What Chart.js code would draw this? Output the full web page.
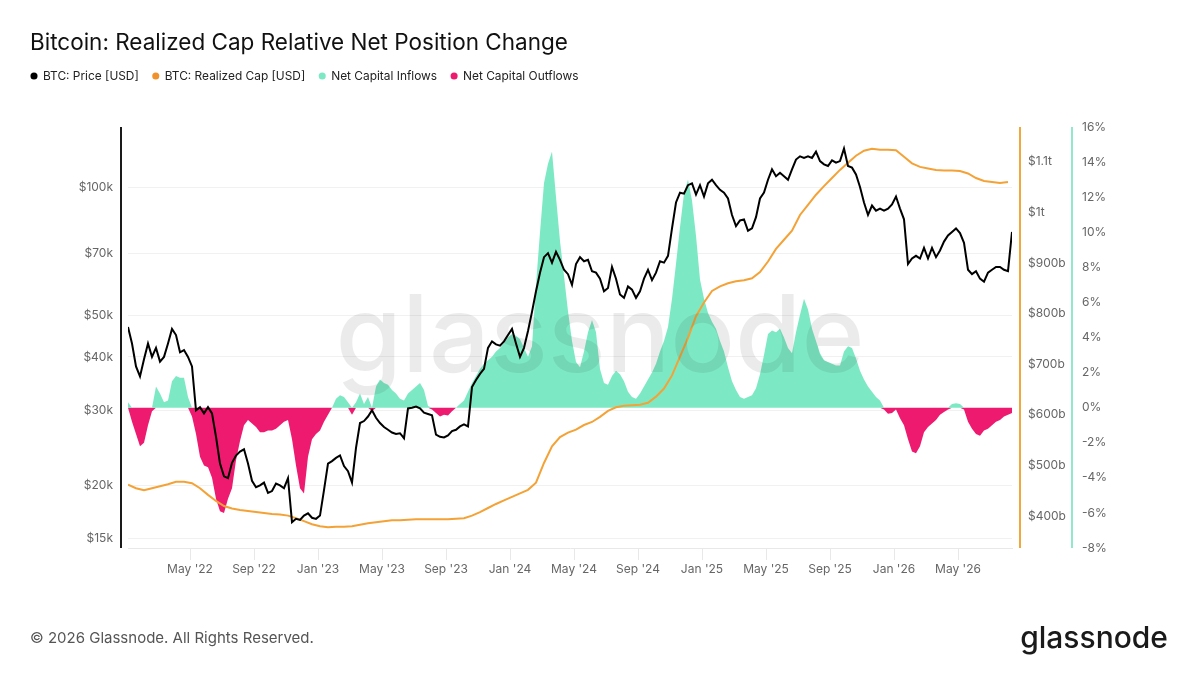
<!DOCTYPE html>
<html>
<head>
<meta charset="utf-8">
<script src="https://cdn.jsdelivr.net/npm/chart.js@4.4.1/dist/chart.umd.min.js"></script>
<style>
body{margin:0;background:#fff;}
#wrap{position:relative;width:1200px;height:675px;font-family:Inter,sans-serif;}
#title{position:absolute;left:30px;top:31px;font-size:22.5px;line-height:22px;color:#111;font-weight:400;}
#foot{position:absolute;left:30px;top:630px;font-size:15px;line-height:16px;color:#555;}
#logo{position:absolute;right:32px;top:622px;font-size:30px;line-height:30px;color:#1a1a1a;font-weight:500;}
canvas{position:absolute;left:0;top:0;}
</style>
</head>
<body>
<div id="wrap">
<canvas id="chart" width="1200" height="675"></canvas>
<div id="title">Bitcoin: Realized Cap Relative Net Position Change</div>
<div id="foot">© 2026 Glassnode. All Rights Reserved.</div>
<div id="logo">glassnode</div>
</div>
<script>
// x values are months since Jan 1 2022; series are weekly (cap every half month)
const firstMonth = 0.125;
const weekStep = 0.25;
const capStep = 0.5;

const tickMonths = [4, 8, 12, 16, 20, 24, 28, 32, 36, 40, 44, 48, 52];
const tickLabels = ["May '22", "Sep '22", "Jan '23", "May '23", "Sep '23", "Jan '24", "May '24",
  "Sep '24", "Jan '25", "May '25", "Sep '25", "Jan '26", "May '26"];
const priceTicks = [15, 20, 30, 40, 50, 70, 100];          // $k
const capTicks = [400, 500, 600, 700, 800, 900, 1000, 1100]; // $b
const pctTicks = [-8, -6, -4, -2, 0, 2, 4, 6, 8, 10, 12, 14, 16];

// BTC price, $k
const btcPriceK = [
  47, 43, 38, 36, 39.5, 43, 40, 42, 39, 40,
  43, 46.5, 45, 41, 41.5, 40, 38, 30, 30.5, 29.5,
  30.5, 29.5, 26, 22.5, 21, 20.8, 22.6, 23.5, 24, 24.3,
  22.5, 20.5, 19.8, 20, 20.3, 19.2, 19.4, 20.2, 20, 19.7,
  20.8, 16.4, 16.7, 16.6, 17, 17.2, 16.8, 16.7, 17, 19.5,
  22.5, 22.8, 23.2, 23.5, 22.2, 21.6, 20.3, 24.5, 28, 28.3,
  29, 30, 28.8, 28, 27.4, 27, 26.6, 26.4, 26.5, 25.8,
  30.3, 30.4, 30.6, 30.3, 29.6, 29.4, 29.2, 26.3, 26, 25.9,
  26.2, 26.8, 27, 27.5, 27.8, 27.5, 34, 35.3, 36.5, 37.5,
  42, 43.5, 42.8, 42.5, 43.5, 45, 46.5, 43, 40, 42,
  46, 51, 57, 63, 68.5, 70, 66.5, 70.5, 67.5, 64,
  62.5, 59, 66, 68.5, 67, 67.5, 63.5, 63, 61, 57,
  58, 65, 61, 56, 55, 58.5, 57.5, 55, 57, 61,
  64, 60.5, 63, 67, 66.5, 69, 80, 92, 97, 96.5,
  101, 102, 96, 101, 95, 102, 104, 101, 98.5, 97,
  94, 86, 81, 83.5, 84, 79, 80, 85, 94, 97,
  104, 110, 106, 108, 106, 104, 110, 116, 118, 117,
  118, 117, 121, 115, 113, 112, 115.5, 114, 115, 123,
  112, 111, 107, 100, 92, 86, 90.5, 88, 89, 88,
  89, 91, 95, 89, 84, 66, 68, 69, 68, 72,
  68, 72, 68.5, 71, 74.5, 77, 78.5, 80, 78, 74,
  64, 62.5, 63.5, 61, 60, 63, 64, 65, 65, 64,
  63.5, 78.5
];

// realized cap relative net position change, %
const netPositionPct = [
  0.3, -0.8, -1.5, -2.2, -2.0, -1.0, -0.2, 1.2, 0.8, 0.3,
  0.4, 1.5, 1.8, 1.7, 1.7, 0.6, -0.5, -1.5, -2.8, -3.3,
  -3.4, -4.0, -5.2, -5.9, -6.0, -5.2, -4.6, -3.0, -1.9, -1.0,
  -0.7, -0.9, -1.1, -1.4, -1.4, -1.3, -1.3, -1.2, -1.0, -0.8,
  -0.7, -1.8, -3.3, -4.6, -4.9, -2.8, -1.8, -1.5, -1.3, -0.8,
  -0.4, 0.0, 0.5, 0.7, 0.6, 0.3, -0.4, 0.3, 0.8, 0.2,
  0.6, -0.2, 1.2, 1.6, 1.4, 1.3, 1.0, 0.8, 0.5, 0.4,
  0.8, 1.0, 1.2, 1.4, 1.0, 0.1, -0.1, -0.3, -0.5, -0.4,
  -0.45, -0.2, 0.0, 0.2, 0.4, 0.9, 1.4, 1.8, 2.2, 2.5,
  2.7, 2.9, 3.2, 3.4, 3.7, 4.0, 4.2, 4.1, 3.9, 3.4,
  2.9, 3.5, 7.0, 10.0, 12.8, 13.9, 14.6, 12.0, 9.5, 7.5,
  5.5, 3.8, 2.6, 2.3, 3.2, 4.3, 5.0, 4.3, 2.2, 1.4,
  1.3, 1.8, 2.1, 1.9, 1.5, 0.9, 0.6, 0.5, 0.8, 1.2,
  1.6, 2.0, 2.5, 3.2, 3.8, 4.6, 6.2, 8.2, 10.3, 12.2,
  13.0, 11.8, 9.8, 7.3, 6.2, 5.4, 4.9, 4.5, 3.8, 3.2,
  2.3, 1.5, 1.0, 0.6, 0.5, 0.6, 0.7, 1.1, 1.9, 3.0,
  4.2, 4.4, 4.3, 4.5, 4.0, 3.4, 3.1, 4.3, 5.3, 6.2,
  5.6, 4.5, 3.8, 3.1, 2.7, 2.6, 2.5, 2.4, 2.4, 3.2,
  3.5, 3.4, 2.8, 2.1, 1.6, 1.2, 0.9, 0.6, 0.4, -0.1,
  -0.35, -0.3, -0.1, -0.6, -1.0, -1.8, -2.5, -2.6, -2.2, -1.4,
  -1.1, -0.9, -0.7, -0.4, -0.25, -0.1, 0.2, 0.25, 0.2, -0.1,
  -0.8, -1.2, -1.5, -1.6, -1.3, -1.2, -1.0, -0.8, -0.7, -0.5,
  -0.4, -0.3
];

// BTC realized cap, $b
const realizedCapB = [
  462, 455, 451, 455, 459, 463, 468, 468, 465, 455,
  442, 430, 420, 415, 412, 410, 408, 406, 404, 403,
  401, 396, 390, 384, 380, 378, 379, 379, 380, 383,
  386, 388, 390, 392, 392, 393, 394, 394, 394, 394,
  394, 395, 396, 401, 408, 416, 424, 431, 438, 445,
  452, 466, 505, 538, 556, 565, 571, 580, 586, 596,
  608, 615, 618, 619, 620, 624, 636, 652, 678, 715,
  752, 795, 822, 845, 854, 860, 864, 866, 870, 882,
  903, 928, 946, 964, 995, 1015, 1035, 1052, 1068, 1084,
  1098, 1112, 1122, 1126, 1124, 1124, 1123, 1110, 1097, 1090,
  1087, 1084, 1083, 1083, 1082, 1077, 1068, 1062, 1060, 1058,
  1060
];

const toPoints = (vals, step) => vals.map((v, i) => ({x: firstMonth + i * step, y: v}));

const decor = {
  id: 'decor',
  afterDatasetsDraw(chart) {
    const ctx = chart.ctx, a = chart.chartArea;
    ctx.save();
    ctx.font = '500 100px Inter';
    const size = 100 * 529 / ctx.measureText('glassnode').width;
    ctx.font = '500 ' + size + 'px Inter';
    ctx.fillStyle = 'rgba(0,0,0,0.08)';
    ctx.textAlign = 'center';
    ctx.textBaseline = 'alphabetic';
    ctx.fillText('glassnode', chart.width / 2, a.top + 245);
    ctx.restore();
  },
  afterDraw(chart) {
    const ctx = chart.ctx, a = chart.chartArea;
    const line = (x, color) => {
      ctx.beginPath();
      ctx.moveTo(x, a.top);
      ctx.lineTo(x, a.bottom);
      ctx.lineWidth = 2;
      ctx.strokeStyle = color;
      ctx.stroke();
    };
    ctx.save();
    line(a.left - 7, '#1a1a1a');
    line(a.right + 8, '#F0A83C');
    line(chart.scales.pct.left + 1, '#93E7CB');
    ctx.restore();
  }
};

Chart.defaults.font.family = 'Inter, sans-serif';
Chart.defaults.font.size = 12;
Chart.defaults.color = '#666';

new Chart(document.getElementById('chart'), {
  type: 'line',
  data: {
    datasets: [{
      label: 'BTC: Price [USD]',
      data: toPoints(btcPriceK, weekStep),
      yAxisID: 'price',
      borderColor: '#000',
      backgroundColor: '#000',
      borderWidth: 2,
      pointRadius: 0,
      order: 0
    }, {
      label: 'BTC: Realized Cap [USD]',
      data: toPoints(realizedCapB, capStep),
      yAxisID: 'cap',
      borderColor: '#F4A236',
      backgroundColor: '#F0922A',
      borderWidth: 2,
      pointRadius: 0,
      order: 1
    }, {
      label: 'Net Capital Inflows',
      data: toPoints(netPositionPct.map(v => Math.max(v, 0)), weekStep),
      yAxisID: 'pct',
      borderColor: 'rgba(0,0,0,0)',
      backgroundColor: '#7DE9C4',
      borderWidth: 0,
      pointRadius: 0,
      fill: 'origin',
      order: 2
    }, {
      label: 'Net Capital Outflows',
      data: toPoints(netPositionPct.map(v => Math.min(v, 0)), weekStep),
      yAxisID: 'pct',
      borderColor: 'rgba(0,0,0,0)',
      backgroundColor: '#EE1A6F',
      borderWidth: 0,
      pointRadius: 0,
      fill: 'origin',
      order: 3
    }]
  },
  options: {
    responsive: false,
    animation: false,
    layout: {padding: {left: 17, right: 30, top: 56, bottom: 87}},
    plugins: {
      legend: {
        position: 'top',
        align: 'start',
        weight: 3000,
        labels: {
          usePointStyle: true,
          pointStyle: 'circle',
          boxWidth: 6,
          boxHeight: 5,
          padding: 14,
          color: '#222',
          font: {size: 11.9},
          generateLabels: (chart) => Chart.defaults.plugins.legend.labels.generateLabels(chart)
            .map(l => Object.assign(l, {strokeStyle: l.fillStyle, lineWidth: 0}))
        }
      },
      // empty title used as a spacer between legend and plot
      title: {display: true, text: '', font: {size: 10}, padding: {top: 0, bottom: 23}},
      tooltip: {enabled: false}
    },
    scales: {
      x: {
        type: 'linear',
        min: 0.125,
        max: 55.375,
        afterBuildTicks: s => { s.ticks = tickMonths.map(v => ({value: v})); },
        afterFit: s => { s.height = 40; },
        ticks: {
          autoSkip: false,
          maxRotation: 0,
          padding: 2,
          color: '#666',
          callback: v => tickLabels[tickMonths.indexOf(v)] || ''
        },
        grid: {drawOnChartArea: false, drawTicks: true, tickLength: 12, color: '#e8e8e8'},
        border: {display: true, color: '#e8e8e8'}
      },
      price: {
        type: 'logarithmic',
        position: 'left',
        min: 14.27,
        max: 138.3,
        afterBuildTicks: s => { s.ticks = priceTicks.map(v => ({value: v})); },
        afterFit: s => { s.width = 111; },
        ticks: {padding: 15, callback: v => '$' + v + 'k'},
        grid: {color: '#f1f1f1', drawTicks: false},
        border: {display: false}
      },
      cap: {
        type: 'linear',
        position: 'right',
        weight: 1,
        min: 337,
        max: 1169,
        afterBuildTicks: s => { s.ticks = capTicks.map(v => ({value: v})); },
        afterFit: s => { s.width = 59; },
        ticks: {padding: 16, callback: v => v >= 1000 ? '$' + (v / 1000) + 't' : '$' + v + 'b'},
        grid: {drawOnChartArea: false, drawTicks: false},
        border: {display: false}
      },
      pct: {
        type: 'linear',
        position: 'right',
        weight: 2,
        min: -8,
        max: 16,
        afterBuildTicks: s => { s.ticks = pctTicks.map(v => ({value: v})); },
        afterFit: s => { s.width = 99; },
        ticks: {padding: 11, callback: v => v + '%'},
        grid: {drawOnChartArea: false, drawTicks: false},
        border: {display: false}
      }
    }
  },
  plugins: [decor]
});
</script>
</body>
</html>
